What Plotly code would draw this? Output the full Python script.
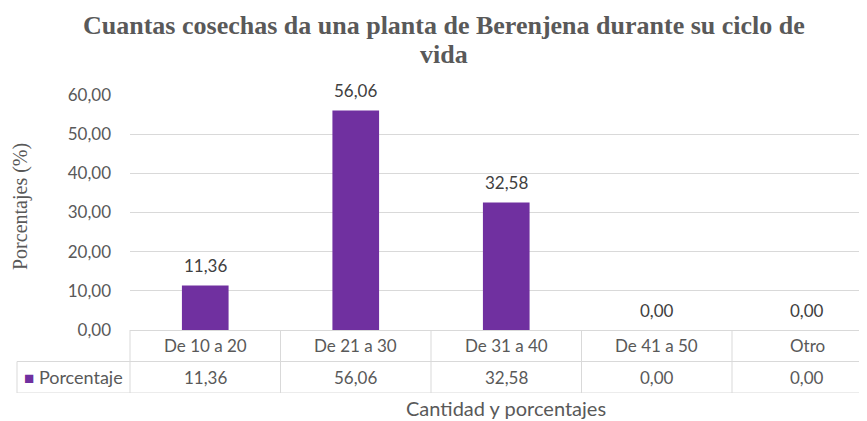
import plotly.graph_objects as go

categories = ["De 10 a 20", "De 21 a 30", "De 31 a 40", "De 41 a 50", "Otro"]
values = [11.36, 56.06, 32.58, 0.00, 0.00]
series_name = "Porcentaje"
y_ticks = [0, 10, 20, 30, 40, 50, 60]
title_lines = ["Cuantas cosechas da una planta de Berenjena durante su ciclo de", "vida"]
y_title = "Porcentajes (%)"
x_title = "Cantidad y porcentajes"


def fmt(v):
    return f"{v:.2f}".replace(".", ",")


W, H = 867, 421
OFF = 8  # page body margin


def fx(p):
    return (p - OFF) / W


def fy(p):
    return 1 - (p - OFF) / H


PX_LEFT, PX_TOP, PX_BOTTOM = 130, 95, 330
ROW_H = 31.5
TABLE_LEFT = 17
CAT_W = 150.5
n = len(categories)
TABLE_BOTTOM = PX_BOTTOM + 2 * ROW_H
X2_DOM_LEFT = TABLE_LEFT - 3
RIGHT = W + OFF


def px_to_cat(px):
    return -0.5 + (px - PX_LEFT) / CAT_W


x_max = px_to_cat(RIGHT)
x2_min = px_to_cat(X2_DOM_LEFT)
x_table_left = px_to_cat(TABLE_LEFT)

GRID = "#d9d9d9"
TXT = "#595959"
LBL = "#404040"
SANS = "Lato, 'Open Sans', sans-serif"
SERIF = "Liberation Serif, Times New Roman, serif"
PURPLE = "#7030A0"

fig = go.Figure()
fig.add_trace(go.Bar(
    x=categories, y=values, name=series_name,
    marker=dict(color=PURPLE, line=dict(width=0)),
    width=0.31, showlegend=False, xaxis="x", yaxis="y",
))
fig.add_trace(go.Scatter(x=[None], y=[None], xaxis="x2", yaxis="y2",
                         showlegend=False, hoverinfo="skip"))

shapes = []
for i in range(n + 1):
    shapes.append(dict(type="line", xref="x2", yref="y2",
                       x0=i - 0.5, x1=i - 0.5, y0=0, y1=2,
                       line=dict(color=GRID, width=1)))
for yy in (0, 1):
    shapes.append(dict(type="line", xref="x2", yref="y2",
                       x0=x_table_left, x1=x_max, y0=yy, y1=yy,
                       line=dict(color=GRID, width=1)))
shapes.append(dict(type="line", xref="x2", yref="y2",
                   x0=x_table_left, x1=x_table_left, y0=0, y1=1,
                   line=dict(color=GRID, width=1)))

ann = []
for i, (c, v) in enumerate(zip(categories, values)):
    ann.append(dict(xref="x2", yref="y2", x=i, y=1.5, text=c, showarrow=False,
                    font=dict(family=SANS, size=17, color=TXT)))
    ann.append(dict(xref="x2", yref="y2", x=i, y=0.5, text=fmt(v), showarrow=False,
                    font=dict(family=SANS, size=17, color=TXT)))
    ann.append(dict(xref="x", yref="y", x=c, y=v, yshift=20, text=fmt(v),
                    showarrow=False, font=dict(family=SANS, size=17, color=LBL)))

ann.append(dict(xref="x2", yref="y2", x=(x_table_left - 0.5) / 2, y=0.5,
                text=f"<span style='color:{PURPLE};font-size:17px'>■</span> {series_name}",
                showarrow=False, font=dict(family=SANS, size=18, color=TXT)))
ann.append(dict(xref="x2", yref="paper", x=(n - 1) / 2, y=fy(408),
                text=x_title, showarrow=False, yanchor="middle",
                font=dict(family=SANS, size=20, color=TXT)))
ann.append(dict(xref="paper", yref="paper", x=fx(20), y=fy(207), text=y_title,
                textangle=-90, showarrow=False, xanchor="center", yanchor="middle",
                font=dict(family=SERIF, size=20, color=TXT)))
for k, line in enumerate(title_lines):
    ann.append(dict(xref="paper", yref="paper", x=fx(444), y=fy(25 + 29 * k),
                    text=f"<b>{line}</b>", showarrow=False,
                    xanchor="center", yanchor="middle",
                    font=dict(family=SERIF, size=26, color=TXT)))

fig.update_layout(
    width=W, height=H, autosize=False,
    margin=dict(l=0, r=0, t=0, b=0, pad=0),
    paper_bgcolor="white", plot_bgcolor="white",
    separators=",.",
    bargap=0.69,
    xaxis=dict(domain=[fx(PX_LEFT), 1], type="category",
               categoryorder="array", categoryarray=categories,
               range=[-0.5, x_max], showticklabels=False, showgrid=False,
               showline=True, linecolor=GRID, linewidth=1, ticks="",
               anchor="y", fixedrange=True, automargin=False),
    yaxis=dict(domain=[fy(PX_BOTTOM), fy(PX_TOP)], range=[0, 60],
               tickvals=y_ticks, tickformat=".2f", showgrid=True,
               gridcolor=GRID, gridwidth=1, zeroline=False, showline=False,
               ticks="", ticklabelstandoff=18, automargin=False,
               tickfont=dict(family=SANS, size=17, color=TXT), anchor="x"),
    xaxis2=dict(domain=[fx(X2_DOM_LEFT), 1], range=[x2_min, x_max],
                visible=False, anchor="y2", automargin=False),
    yaxis2=dict(domain=[fy(TABLE_BOTTOM), fy(PX_BOTTOM)],
                range=[0, 2], visible=False, anchor="x2", automargin=False),
    shapes=shapes,
    annotations=ann,
)

fig.write_html("out.html")
